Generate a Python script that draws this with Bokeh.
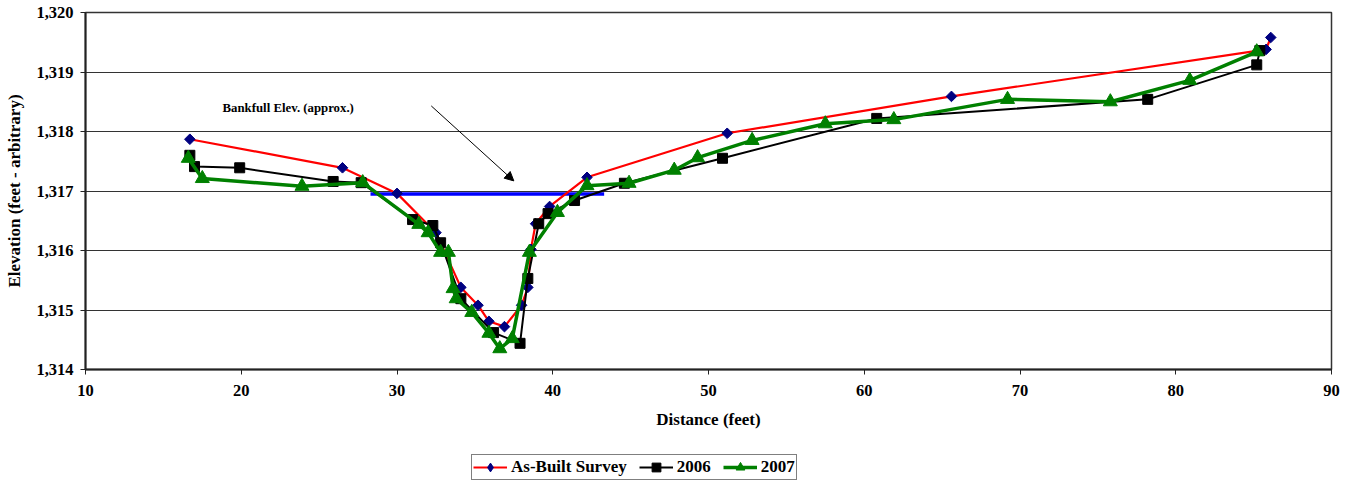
import math
from bokeh.plotting import figure
from bokeh.layouts import column
from bokeh.models import (FixedTicker, NumeralTickFormatter, Legend, LegendItem,
                          Arrow, NormalHead, Label)
from bokeh.embed import file_html
from bokeh.resources import INLINE

# ---- data ----
asbuilt_x = [16.7, 26.5, 30.0, 32.5, 34.1, 35.2, 35.9, 36.9, 38.0, 38.4, 38.6,
             38.9, 39.8, 42.2, 51.2, 65.6, 85.3, 85.8, 86.1]
asbuilt_y = [1317.87, 1317.39, 1316.96, 1316.30, 1315.38, 1315.08, 1314.81, 1314.72,
             1315.08, 1315.38, 1316.02, 1316.45, 1316.74, 1317.23, 1317.97, 1318.59,
             1319.36, 1319.38, 1319.58]

y2006_x = [16.7, 17.0, 19.9, 25.9, 27.7, 31.0, 32.3, 32.8, 34.1, 36.2, 37.9, 38.4,
           39.1, 39.7, 41.4, 44.6, 50.9, 60.8, 78.2, 85.2, 85.4]
y2006_y = [1317.60, 1317.41, 1317.39, 1317.16, 1317.14, 1316.52, 1316.42, 1316.13,
           1315.19, 1314.62, 1314.44, 1315.53, 1316.45, 1316.62, 1316.84, 1317.13,
           1317.55, 1318.22, 1318.54, 1319.12, 1319.36]

y2007_x = [16.6, 17.5, 23.9, 27.8, 31.4, 32.0, 32.8, 33.3, 33.6, 33.8, 34.8, 35.9,
           36.6, 37.4, 38.5, 40.3, 42.2, 44.9, 47.8, 49.3, 52.8, 57.5, 61.9, 69.2,
           75.8, 80.9, 85.2]
y2007_y = [1317.55, 1317.21, 1317.08, 1317.14, 1316.44, 1316.30, 1315.97, 1315.97,
           1315.36, 1315.19, 1314.96, 1314.61, 1314.35, 1314.52, 1315.97, 1316.64,
           1317.09, 1317.13, 1317.35, 1317.56, 1317.85, 1318.13, 1318.20, 1318.54,
           1318.50, 1318.86, 1319.34]

bankfull_x = [28.3, 43.3]
bankfull_y = [1316.95, 1316.95]

series_names = ["As-Built Survey", "2006", "2007"]

x_ticks = [10, 20, 30, 40, 50, 60, 70, 80, 90]
y_ticks = [1314, 1315, 1316, 1317, 1318, 1319, 1320]

note_text = "Bankfull Elev. (approx.)"
note_pos = (18.8, 1318.40)
arrow_start = (32.2, 1318.43)
arrow_end = (37.5, 1317.17)

FONT = "'Liberation Serif', 'Times New Roman', Times, serif"

MAIN_H = 445
p = figure(width=1355, height=MAIN_H, x_range=(10, 90), y_range=(1314, 1320),
           output_backend="svg", toolbar_location=None,
           min_border_left=85, min_border_right=24, min_border_top=12,
           min_border_bottom=MAIN_H - 369)
p.outline_line_color = "#333333"
p.outline_line_width = 1.5
p.background_fill_color = "white"
p.border_fill_color = "white"

p.xgrid.visible = False
p.ygrid.grid_line_color = "#333333"
p.ygrid.grid_line_width = 1
p.ygrid.ticker = FixedTicker(ticks=y_ticks)

p.xaxis.ticker = FixedTicker(ticks=x_ticks)
p.yaxis.ticker = FixedTicker(ticks=y_ticks)
p.yaxis.formatter = NumeralTickFormatter(format="0,0")

for ax in (p.xaxis[0], p.yaxis[0]):
    ax.axis_line_color = "#222222"
    ax.axis_line_width = 2
    ax.major_tick_line_color = "#222222"
    ax.major_tick_out = 5
    ax.major_tick_in = 0
    ax.minor_tick_line_color = None
    ax.major_label_text_font = FONT
    ax.major_label_text_font_style = "bold"
    ax.major_label_text_font_size = "16.5px"
    ax.major_label_text_color = "black"
    ax.axis_label_text_font = FONT
    ax.axis_label_text_font_style = "bold"
    ax.axis_label_text_font_size = "17px"
    ax.axis_label_text_color = "black"

p.xaxis.axis_label = "Distance (feet)"
p.yaxis.axis_label = "Elevation (feet - arbitrary)"
p.xaxis.major_label_standoff = 10
p.xaxis.axis_label_standoff = 11
p.yaxis.major_label_standoff = 7
p.yaxis.axis_label_standoff = 9

# bankfull line
p.line(bankfull_x, bankfull_y, line_color="#0000FF", line_width=3.5)

# series
p.line(asbuilt_x, asbuilt_y, line_color="#FF0000", line_width=2.2)
p.scatter(asbuilt_x, asbuilt_y, marker="square", size=7.5, angle=math.pi / 4,
          fill_color="#000080", line_color="#000080")

p.line(y2006_x, y2006_y, line_color="black", line_width=2)
p.scatter(y2006_x, y2006_y, marker="square", size=10,
          fill_color="black", line_color="black")

p.line(y2007_x, y2007_y, line_color="#008000", line_width=3.5)
p.scatter(y2007_x, y2007_y, marker="triangle", size=14,
          fill_color="#008000", line_color="#008000")

# annotation
p.add_layout(Label(x=note_pos[0], y=note_pos[1], text=note_text,
                   text_font=FONT, text_font_style="bold", text_font_size="12.8px",
                   text_baseline="middle", text_color="black"))
p.add_layout(Arrow(x_start=arrow_start[0], y_start=arrow_start[1],
                   x_end=arrow_end[0], y_end=arrow_end[1], line_width=1,
                   line_color="black",
                   end=NormalHead(size=9, fill_color="black", line_color="black")))

# ---- legend strip (second figure; its series glyphs lie outside its view) ----
LEG_H = 483 - MAIN_H
q = figure(width=1355, height=LEG_H, x_range=(10, 90), y_range=(0, 1),
           output_backend="svg", toolbar_location=None,
           min_border=0, x_axis_type=None, y_axis_type=None)
q.outline_line_color = None
q.xgrid.visible = False
q.ygrid.visible = False

l1 = q.line(asbuilt_x, asbuilt_y, line_color="#FF0000", line_width=2.2)
m1 = q.scatter(asbuilt_x, asbuilt_y, marker="diamond", size=13,
               fill_color="#000080", line_color="#000080")
l2 = q.line(y2006_x, y2006_y, line_color="black", line_width=2)
m2 = q.scatter(y2006_x, y2006_y, marker="square", size=10,
               fill_color="black", line_color="black")
l3 = q.line(y2007_x, y2007_y, line_color="#008000", line_width=3.5)
m3 = q.scatter(y2007_x, y2007_y, marker="triangle", size=14,
               fill_color="#008000", line_color="#008000")

legend = Legend(items=[
    LegendItem(label=series_names[0], renderers=[l1, m1]),
    LegendItem(label=series_names[1], renderers=[l2, m2]),
    LegendItem(label=series_names[2], renderers=[l3, m3]),
], orientation="horizontal", location=(386, 3))
legend.label_text_font = FONT
legend.label_text_font_style = "bold"
legend.label_text_font_size = "17px"
legend.label_text_color = "black"
legend.label_height = 22
legend.glyph_height = 22
legend.border_line_color = "black"
legend.border_line_width = 1
legend.padding = 1
legend.spacing = 12
legend.margin = 0
legend.glyph_width = 34
legend.label_standoff = 4
legend.background_fill_alpha = 1
q.add_layout(legend, "center")

layout = column(p, q, spacing=0)
open("out.html", "w").write(file_html(layout, INLINE))
